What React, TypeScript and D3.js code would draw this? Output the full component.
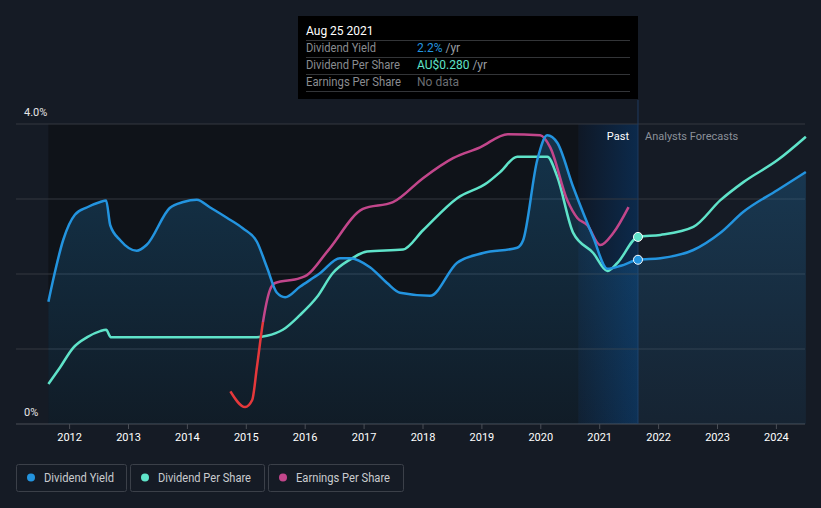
import React from 'react';
import * as d3 from 'd3';

const W = 821;
const H = 508;

// Dividend Yield (%), decimal years
const yieldYears = [2011.64, 2011.72, 2011.89, 2012.09, 2012.3, 2012.52, 2012.62, 2012.69, 2012.86, 2013.14, 2013.31, 2013.7, 2013.93, 2014.16, 2014.38, 2014.67, 2014.94, 2015.18, 2015.35, 2015.52, 2015.66, 2015.91, 2016.25, 2016.59, 2016.76, 2017.1, 2017.39, 2017.61, 2018.12, 2018.58, 2019.02, 2019.6, 2019.7, 2019.94, 2020.11, 2020.28, 2020.55, 2020.89, 2021.13, 2021.36, 2021.65, 2022.03, 2022.59, 2023.05, 2023.44, 2024.02, 2024.5];
const yieldValues = [1.63, 1.92, 2.45, 2.79, 2.89, 2.96, 2.98, 2.65, 2.45, 2.31, 2.39, 2.88, 2.96, 2.99, 2.89, 2.75, 2.61, 2.43, 2.09, 1.75, 1.69, 1.83, 2.01, 2.21, 2.21, 2.09, 1.88, 1.75, 1.71, 2.15, 2.28, 2.35, 2.45, 3.52, 3.85, 3.75, 3.16, 2.49, 2.07, 2.11, 2.19, 2.21, 2.32, 2.55, 2.83, 3.12, 3.36];

// Dividend Per Share (AU$)
const dpsYears = [2011.64, 2011.84, 2012.06, 2012.3, 2012.52, 2012.62, 2012.7, 2015.18, 2015.35, 2015.62, 2015.91, 2016.2, 2016.47, 2016.76, 2017.05, 2017.66, 2018.0, 2018.58, 2019.09, 2019.31, 2019.6, 2020.11, 2020.28, 2020.55, 2020.89, 2021.13, 2021.3, 2021.65, 2022.03, 2022.59, 2023.05, 2023.44, 2024.02, 2024.5];
const dpsValues = [0.06, 0.085, 0.114, 0.13, 0.139, 0.141, 0.13, 0.13, 0.132, 0.141, 0.163, 0.19, 0.226, 0.246, 0.258, 0.261, 0.29, 0.338, 0.361, 0.377, 0.4, 0.4, 0.37, 0.286, 0.256, 0.229, 0.241, 0.28, 0.283, 0.295, 0.335, 0.362, 0.395, 0.43];

// Earnings Per Share (AU$)
const epsYears = [2014.73, 2014.98, 2015.1, 2015.18, 2015.28, 2015.4, 2015.49, 2015.91, 2016.03, 2016.39, 2016.98, 2017.49, 2018.0, 2018.51, 2018.97, 2019.44, 2019.99, 2020.16, 2020.45, 2020.62, 2020.79, 2021.01, 2021.23, 2021.49];
const epsValues = [-0.184, -0.226, -0.207, -0.12, -0.003, 0.085, 0.104, 0.117, 0.125, 0.191, 0.301, 0.319, 0.383, 0.436, 0.465, 0.5, 0.497, 0.465, 0.324, 0.277, 0.258, 0.205, 0.237, 0.306];

const xTicks = [2012, 2013, 2014, 2015, 2016, 2017, 2018, 2019, 2020, 2021, 2022, 2023, 2024];
const yGrid = [0, 1, 2, 3, 4];

const pastStart = 2020.64;
const today = 2021.65;

const tipLabels = ['Dividend Yield', 'Dividend Per Share', 'Earnings Per Share'];
const tipValues = ['2.2%', 'AU$0.280', 'No data'];
const tipUnits = [' /yr', ' /yr', ''];

const legendLabels = ['Dividend Yield', 'Dividend Per Share', 'Earnings Per Share'];

const BLUE = '#2394df';
const TEAL = '#5fe3c9';
const PINK = '#c2468b';
const RED = '#e5383b';
const legendColors = [BLUE, TEAL, PINK];
const tipColors = [BLUE, TEAL, '#6b6e73'];

const FONT = 'Roboto, "Open Sans", sans-serif';

export default function App() {
  const left = 16;
  const right = 805;
  const top = 124;
  const bottom = 424;

  const x = d3.scaleLinear().domain([2012, 2024]).range([69.6, 776.4]);
  const y = d3.scaleLinear().domain([0, 4]).range([bottom, top]);
  const yDps = d3.scaleLinear().domain([0, 0.449]).range([bottom, top]);
  const yEps = d3.scaleLinear().domain([-0.271, 0.527]).range([bottom, top]);

  const yieldData = yieldYears.map((t, i) => [t, yieldValues[i]] as [number, number]);
  const dpsData = dpsYears.map((t, i) => [t, dpsValues[i]] as [number, number]);
  const epsData = epsYears.map((t, i) => [t, epsValues[i]] as [number, number]);

  const yieldLine = d3.line<[number, number]>().x(d => x(d[0])).y(d => y(d[1])).curve(d3.curveMonotoneX);
  const yieldArea = d3.area<[number, number]>().x(d => x(d[0])).y0(bottom).y1(d => y(d[1])).curve(d3.curveMonotoneX);
  const dpsLine = d3.line<[number, number]>().x(d => x(d[0])).y(d => yDps(d[1])).curve(d3.curveMonotoneX);
  const epsLine = d3.line<[number, number]>().x(d => x(d[0])).y(d => yEps(d[1])).curve(d3.curveMonotoneX);

  // eps below zero is drawn red
  const zeroOffset = (yEps(0) - top) / (bottom - top);

  const xStart = x(yieldYears[0]);
  const xPast = x(pastStart);
  const xToday = x(today);

  const todayYield = yieldValues[yieldYears.indexOf(today)];
  const todayDps = dpsValues[dpsYears.indexOf(today)];

  const legendX = [16, 130, 268];
  const legendW = [110, 134, 135];
  const legendTextW = [70, 93, 94];
  const tipLabelW = [70, 94, 95];

  return (
    <svg width={W} height={H} style={{ position: 'absolute', left: 0, top: 0, background: '#151b25' }} fontFamily={FONT}>
      <defs>
        <linearGradient id="areaGrad" x1="0" y1={top} x2="0" y2={bottom} gradientUnits="userSpaceOnUse">
          <stop offset="0" stopColor={BLUE} stopOpacity={0.26} />
          <stop offset="1" stopColor={BLUE} stopOpacity={0.07} />
        </linearGradient>
        <linearGradient id="pastGrad" x1={xPast} y1="0" x2={xToday} y2="0" gradientUnits="userSpaceOnUse">
          <stop offset="0" stopColor="#0f1826" />
          <stop offset="1" stopColor="#0c2a4c" />
        </linearGradient>
        <linearGradient id="epsGrad" x1="0" y1={top} x2="0" y2={bottom} gradientUnits="userSpaceOnUse">
          <stop offset={zeroOffset} stopColor={PINK} />
          <stop offset={zeroOffset} stopColor={RED} />
        </linearGradient>
      </defs>

      <rect x={0} y={0} width={W} height={H} fill="#151b25" />
      <rect x={xStart} y={top} width={xPast - xStart} height={bottom - top} fill="#0f1319" />
      <rect x={xPast} y={top} width={xToday - xPast} height={bottom - top} fill="url(#pastGrad)" />

      {yGrid.map(v => (
        <line key={v} x1={left} x2={right} y1={y(v)} y2={y(v)} stroke={v === 0 ? '#4a4f57' : '#343941'} strokeWidth={1} />
      ))}

      <line x1={xToday} x2={xToday} y1={100} y2={bottom} stroke="#1f3b60" strokeWidth={1} />

      <path d={yieldArea(yieldData) || ''} fill="url(#areaGrad)" />
      <path d={dpsLine(dpsData) || ''} fill="none" stroke={TEAL} strokeWidth={2.5} />
      <path d={epsLine(epsData) || ''} fill="none" stroke="url(#epsGrad)" strokeWidth={2.5} />
      <path d={yieldLine(yieldData) || ''} fill="none" stroke={BLUE} strokeWidth={2.5} />

      <circle cx={xToday} cy={yDps(todayDps)} r={4.5} fill={TEAL} stroke="#ffffff" strokeWidth={1} />
      <circle cx={xToday} cy={y(todayYield)} r={4.5} fill={BLUE} stroke="#ffffff" strokeWidth={1} />

      {xTicks.map(t => (
        <g key={t}>
          <line x1={x(t)} x2={x(t)} y1={bottom} y2={bottom + 5} stroke="#4a4f57" />
          <text x={x(t)} y={441} textAnchor="middle" fontSize={11} fill="#ffffff">{t}</text>
        </g>
      ))}

      <text x={24} y={116} fontSize={11} fill="#e6e6e6">4.0%</text>
      <text x={24} y={416} fontSize={11} fill="#e6e6e6">0%</text>

      <text x={xToday - 9} y={140} textAnchor="end" fontSize={11} fill="#ffffff">Past</text>
      <text x={xToday + 7} y={140} fontSize={11} fill="#8b9099">Analysts Forecasts</text>

      <g>
        <rect x={298} y={16} width={xToday - 298} height={83} fill="#000000" />
        <text x={306} y={35} fontSize={12} fill="#ffffff">Aug 25 2021</text>
        {tipLabels.map((lab, i) => (
          <g key={lab}>
            <line x1={306} x2={630} y1={40.5 + i * 17} y2={40.5 + i * 17} stroke="#333538" />
            <text x={306} y={52 + i * 17} fontSize={12} fill="#8a8c90" textLength={tipLabelW[i]} lengthAdjust="spacingAndGlyphs">{lab}</text>
            <text x={417} y={52 + i * 17} fontSize={12} fill={tipColors[i]}>
              {tipValues[i]}
              <tspan fill="#9a9da2">{tipUnits[i]}</tspan>
            </text>
          </g>
        ))}
        <line x1={306} x2={630} y1={91.5} y2={91.5} stroke="#333538" />
      </g>

      {legendLabels.map((lab, i) => (
        <g key={lab}>
          <rect x={legendX[i] + 0.5} y={464.5} width={legendW[i]} height={27} rx={2} fill="none" stroke="#3b4049" />
          <circle cx={legendX[i] + 15} cy={477.5} r={4} fill={legendColors[i]} />
          <text x={legendX[i] + 28} y={481.5} fontSize={12} fill="#c9cbcf" textLength={legendTextW[i]} lengthAdjust="spacingAndGlyphs">{lab}</text>
        </g>
      ))}
    </svg>
  );
}
